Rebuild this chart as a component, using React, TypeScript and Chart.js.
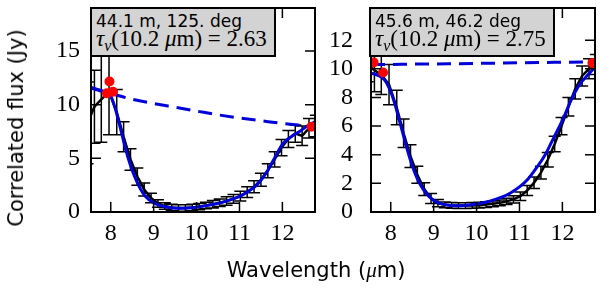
import React, { useEffect, useRef } from "react";
import { Chart, registerables } from "chart.js";
Chart.register(...registerables);

// ---- data ----
const obsWave = [7.46, 7.62, 7.78, 7.96, 8.14, 8.30, 8.46, 8.62, 8.78, 8.94, 9.10, 9.26, 9.42, 9.58, 9.74, 9.90, 10.06, 10.22, 10.38, 10.54, 10.70, 10.86, 11.02, 11.18, 11.34, 11.50, 11.66, 11.82, 11.98, 12.14, 12.30, 12.46, 12.62, 12.78];
const leftFlux = [8.3, 9.8, 10.5, 11.2, 9.3, 7.0, 4.9, 3.3, 2.1, 1.3, 0.8, 0.55, 0.42, 0.38, 0.38, 0.42, 0.5, 0.6, 0.72, 0.86, 1.02, 1.22, 1.48, 1.85, 2.35, 3.0, 3.85, 4.9, 6.0, 6.8, 7.3, 7.1, 7.8, 8.0];
const leftErr = [3.8, 3.4, 4.0, 4.0, 2.1, 1.4, 1.0, 0.8, 0.6, 0.45, 0.35, 0.3, 0.3, 0.3, 0.3, 0.3, 0.3, 0.3, 0.35, 0.35, 0.4, 0.4, 0.45, 0.5, 0.55, 0.6, 0.65, 0.7, 0.75, 0.8, 0.8, 0.9, 0.9, 1.0];
const rightFlux = [10.3, 9.9, 9.6, 8.9, 7.3, 5.5, 3.9, 2.6, 1.6, 0.95, 0.62, 0.5, 0.46, 0.45, 0.45, 0.46, 0.48, 0.52, 0.57, 0.64, 0.74, 0.88, 1.1, 1.5, 2.05, 2.75, 3.65, 4.75, 6.0, 7.35, 8.6, 9.5, 10.0, 10.3];
const rightErr = [1.2, 1.5, 1.4, 1.4, 1.2, 1.0, 0.8, 0.6, 0.45, 0.35, 0.25, 0.2, 0.2, 0.2, 0.2, 0.2, 0.2, 0.2, 0.2, 0.2, 0.22, 0.25, 0.3, 0.35, 0.4, 0.45, 0.5, 0.55, 0.6, 0.65, 0.7, 0.7, 0.7, 0.7];

const modelWave = [7.54, 7.7, 7.85, 8.0, 8.1, 8.2, 8.3, 8.4, 8.5, 8.6, 8.7, 8.8, 9.0, 9.2, 9.4, 9.6, 9.8, 10.0, 10.2, 10.4, 10.6, 10.8, 11.0, 11.2, 11.4, 11.6, 11.8, 12.0, 12.2, 12.4, 12.6, 12.76];
const leftModel = [11.55, 11.35, 11.15, 10.8, 9.7, 8.2, 6.6, 5.1, 3.9, 2.9, 2.1, 1.5, 0.85, 0.55, 0.4, 0.35, 0.37, 0.45, 0.57, 0.72, 0.9, 1.15, 1.45, 1.9, 2.5, 3.5, 4.9, 6.3, 7.0, 7.5, 8.05, 8.4];
const rightModel = [9.7, 9.55, 9.25, 8.4, 7.5, 6.4, 5.3, 4.2, 3.25, 2.45, 1.85, 1.4, 0.8, 0.55, 0.45, 0.43, 0.48, 0.56, 0.68, 0.85, 1.05, 1.35, 1.75, 2.3, 3.1, 4.0, 5.2, 6.4, 7.8, 8.9, 9.6, 10.1];

const dashWave = [7.54, 8.0, 8.5, 9.0, 9.5, 10.0, 10.5, 11.0, 11.5, 12.0, 12.5, 12.76];
const leftDash = [11.6, 11.05, 10.5, 10.1, 9.75, 9.4, 9.05, 8.75, 8.5, 8.25, 8.05, 7.95];
const rightDash = [10.3, 10.31, 10.33, 10.34, 10.36, 10.38, 10.4, 10.42, 10.44, 10.46, 10.48, 10.5];

const leftDotWave = [7.91, 7.97, 8.05, 12.68];
const leftDotFlux = [11.05, 12.15, 11.2, 7.95];
const rightDotWave = [7.6, 7.82, 12.7];
const rightDotFlux = [10.45, 9.75, 10.4];

const xTicks = [8, 9, 10, 11, 12];
const leftYTicks = [0, 5, 10, 15];
const rightYTicks = [0, 2, 4, 6, 8, 10, 12];

const BLUE = "#0000d8";
const TICK_FONT = { family: "'Liberation Serif', serif", size: 24, lineHeight: 1 };

function pts(xs: number[], ys: number[]) {
  return xs.map((x, i) => ({ x, y: ys[i] }));
}

const errPlugin = {
  id: "errbars",
  beforeDatasetsDraw(chart: any, _args: any, opts: any) {
    const { ctx, chartArea: a, scales } = chart;
    const { wave, flux, err } = opts;
    if (!wave) return;
    ctx.save();
    ctx.beginPath();
    ctx.rect(a.left, a.top, a.right - a.left, a.bottom - a.top);
    ctx.clip();
    ctx.strokeStyle = "#000";
    ctx.lineWidth = 1.5;
    ctx.beginPath();
    wave.forEach((w: number, i: number) => {
      const px = scales.x.getPixelForValue(w);
      const y1 = scales.y.getPixelForValue(flux[i] - err[i]);
      const y2 = scales.y.getPixelForValue(flux[i] + err[i]);
      ctx.moveTo(px, y1);
      ctx.lineTo(px, y2);
      ctx.moveTo(px - 6, y1);
      ctx.lineTo(px + 6, y1);
      ctx.moveTo(px - 6, y2);
      ctx.lineTo(px + 6, y2);
    });
    ctx.stroke();
    ctx.restore();
  },
};

const framePlugin = {
  id: "frame",
  afterDatasetsDraw(chart: any) {
    const { ctx, chartArea: a, scales } = chart;
    const L = 10;
    ctx.save();
    ctx.strokeStyle = "#000";
    ctx.lineWidth = 1.5;
    ctx.beginPath();
    scales.x.ticks.forEach((t: any) => {
      const px = scales.x.getPixelForValue(t.value);
      ctx.moveTo(px, a.bottom);
      ctx.lineTo(px, a.bottom - L);
      ctx.moveTo(px, a.top);
      ctx.lineTo(px, a.top + L);
    });
    scales.y.ticks.forEach((t: any) => {
      const py = scales.y.getPixelForValue(t.value);
      ctx.moveTo(a.left, py);
      ctx.lineTo(a.left + L, py);
      ctx.moveTo(a.right, py);
      ctx.lineTo(a.right - L, py);
    });
    ctx.stroke();
    ctx.lineWidth = 2;
    ctx.strokeRect(a.left, a.top, a.right - a.left, a.bottom - a.top);
    ctx.restore();
  },
};

type PanelProps = {
  left: number;
  width: number;
  yAxisWidth: number;
  yMax: number;
  yTicks: number[];
  flux: number[];
  err: number[];
  model: number[];
  dash: number[];
  dotW: number[];
  dotF: number[];
  tickPad: number;
};

function Panel(p: PanelProps) {
  const ref = useRef<HTMLCanvasElement>(null);
  useEffect(() => {
    const chart = new Chart(ref.current as HTMLCanvasElement, {
      type: "line",
      data: {
        datasets: [
          { data: pts(p.dotW, p.dotF), showLine: false, pointRadius: 5, pointBackgroundColor: "#ff0000", pointBorderWidth: 0, borderColor: "#ff0000", order: 0, clip: 0 } as any,
          { data: pts(modelWave, p.model), borderColor: BLUE, borderWidth: 3, pointRadius: 0, cubicInterpolationMode: "monotone", order: 1, clip: 0 } as any,
          { data: pts(dashWave, p.dash), borderColor: BLUE, borderWidth: 3, borderDash: [14, 8], pointRadius: 0, cubicInterpolationMode: "monotone", order: 2, clip: 0 } as any,
          { data: pts(obsWave, p.flux), borderColor: "#000", borderWidth: 2.5, pointRadius: 0, order: 3, clip: 0 } as any,
        ],
      },
      options: {
        animation: false,
        responsive: false,
        events: [],
        layout: { padding: { top: 8, right: 5, left: 0, bottom: 0 } },
        plugins: {
          legend: { display: false },
          tooltip: { enabled: false },
          errbars: { wave: obsWave, flux: p.flux, err: p.err },
        } as any,
        scales: {
          x: {
            type: "linear",
            min: 7.54,
            max: 12.76,
            grid: { display: false },
            border: { display: false },
            ticks: { font: TICK_FONT, color: "#000", padding: 2, maxRotation: 0 },
            afterBuildTicks: (s: any) => {
              s.ticks = xTicks.map((v) => ({ value: v }));
            },
            afterFit: (s: any) => {
              s.height = 84;
              s.paddingLeft = 0;
              s.paddingRight = 0;
            },
          },
          y: {
            type: "linear",
            min: 0,
            max: p.yMax,
            grid: { display: false },
            border: { display: false },
            ticks: { font: TICK_FONT, color: "#000", padding: p.tickPad },
            afterBuildTicks: (s: any) => {
              s.ticks = p.yTicks.map((v) => ({ value: v }));
            },
            afterFit: (s: any) => {
              s.width = p.yAxisWidth;
              s.paddingTop = 0;
              s.paddingBottom = 0;
            },
          },
        },
      } as any,
      plugins: [errPlugin, framePlugin],
    });
    return () => chart.destroy();
  }, []);
  return (
    <canvas
      ref={ref}
      width={p.width}
      height={296}
      style={{ position: "absolute", left: p.left, top: 0, width: p.width, height: 296 }}
    />
  );
}

function InfoBox({ left, line1, tau }: { left: number; line1: string; tau: string }) {
  return (
    <div
      style={{
        position: "absolute",
        left,
        top: 7,
        width: 186,
        height: 50,
        background: "#d3d3d3",
        border: "2px solid #000",
        boxSizing: "border-box",
      }}
    >
      <div style={{ position: "absolute", left: 4, top: 2, font: "17px 'DejaVu Sans', sans-serif", lineHeight: "20px", whiteSpace: "nowrap", color: "#000" }}>
        {line1}
      </div>
      <div style={{ position: "absolute", left: 4, top: 17, font: "23px 'Liberation Serif', serif", lineHeight: "26px", whiteSpace: "nowrap", color: "#000" }}>
        <i>τ</i>
        <span style={{ position: "relative", top: 5, fontSize: 16 }}>
          <i>ν</i>
        </span>
        (10.2 <i>μ</i>m) = {tau}
      </div>
    </div>
  );
}

export default function App() {
  return (
    <div style={{ position: "fixed", left: 0, top: 0, width: 600, height: 296, background: "#fff", overflow: "hidden" }}>
      <Panel left={0} width={320} yAxisWidth={91} yMax={19} yTicks={leftYTicks} flux={leftFlux} err={leftErr} model={leftModel} dash={leftDash} dotW={leftDotWave} dotF={leftDotFlux} tickPad={3} />
      <Panel left={320} width={280} yAxisWidth={51} yMax={14.25} yTicks={rightYTicks} flux={rightFlux} err={rightErr} model={rightModel} dash={rightDash} dotW={rightDotWave} dotF={rightDotFlux} tickPad={10} />
      <InfoBox left={90} line1="44.1 m, 125. deg" tau="2.63" />
      <InfoBox left={369} line1="45.6 m, 46.2 deg" tau="2.75" />
      <div
        style={{
          position: "absolute",
          left: 16,
          top: 128,
          transform: "translate(-50%, -50%) rotate(-90deg)",
          font: "21px 'DejaVu Sans', sans-serif",
          whiteSpace: "nowrap",
          color: "#000",
        }}
      >
        Correlated flux (Jy)
      </div>
      <div
        style={{
          position: "absolute",
          left: 316,
          top: 270,
          transform: "translate(-50%, -50%)",
          font: "21px 'DejaVu Sans', sans-serif",
          whiteSpace: "nowrap",
          color: "#000",
        }}
      >
        Wavelength (<i style={{ fontFamily: "'Liberation Serif', serif" }}>μ</i>m)
      </div>
    </div>
  );
}
